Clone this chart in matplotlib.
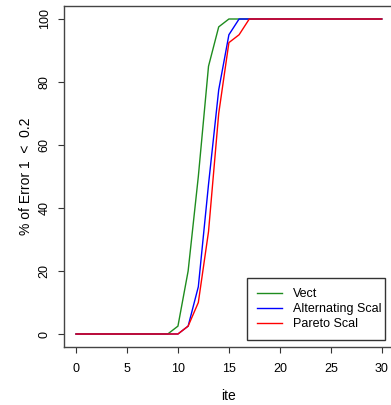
import numpy as np
import matplotlib
matplotlib.use("Agg")
import matplotlib.pyplot as plt
from matplotlib.patches import Rectangle

plt.rcParams['font.family'] = ['Liberation Sans', 'DejaVu Sans']

# iterations and % of runs with Error 1 < 0.2
ite = np.arange(0, 31)
vect = [0] * 10 + [2.5, 20, 50, 85, 97.5] + [100] * 16
alternating_scal = [0] * 11 + [2.5, 15, 47.5, 77.5, 95] + [100] * 15
pareto_scal = [0] * 11 + [2.5, 10, 32.5, 70, 92.5, 95] + [100] * 14

series = [
    ("Vect", vect, "#1e8c1e"),
    ("Alternating Scal", alternating_scal, "#0000ff"),
    ("Pareto Scal", pareto_scal, "#ff0000"),
]

W, H = 391, 405
fig = plt.figure(figsize=(W / 100, H / 100), dpi=100)
# plot region in pixels (R style, 4% padding around data range)
left, right, top, bottom = 63.8, 394.0, 6.4, 346.6
ax = fig.add_axes([left / W, 1 - bottom / H, (right - left) / W, (bottom - top) / H])

for name, vals, col in series:
    ax.plot(ite, vals, color=col, lw=1, label=name)

ax.set_xlim(-1.2, 31.2)
ax.set_ylim(-4, 104)
ax.set_xticks([0, 5, 10, 15, 20, 25, 30])
ax.set_yticks([0, 20, 40, 60, 80, 100])
ax.tick_params(direction='out', length=4.5, width=0.8, color='#333333',
               labelsize=9)
ax.tick_params(axis='x', pad=7.5)
ax.tick_params(axis='y', pad=5)
for lab in ax.get_yticklabels():
    lab.set_rotation(90)
    lab.set_va('center')
for s in ax.spines.values():
    s.set_color('#444444')
    s.set_linewidth(1)

# axis titles placed like R's margin lines
fig.text((left + right) / 2 / W, 1 - 396 / H, "ite", fontsize=10,
         ha='center', va='center')
fig.text(26 / W, 1 - (top + bottom) / 2 / H, "% of Error 1  <  0.2",
         fontsize=10, rotation=90, ha='center', va='center')

# legend box drawn by hand (R style, tight on the right)
lx0, ly0, lx1, ly1 = 247, 278, 385, 340
ax.add_patch(Rectangle((lx0 / W, 1 - ly1 / H), (lx1 - lx0) / W, (ly1 - ly0) / H,
                       transform=fig.transFigure, facecolor='white',
                       edgecolor='#333333', lw=1, zorder=5, clip_on=False))
leg = ax.legend(loc='upper left', bbox_to_anchor=(lx0 / W, 1 - ly0 / H),
                bbox_transform=fig.transFigure, fontsize=9, frameon=False,
                handlelength=2.0, handletextpad=0.9, borderpad=0.8,
                labelspacing=0.25, borderaxespad=0)
leg.set_zorder(6)

fig.savefig("out.png", dpi=100)
